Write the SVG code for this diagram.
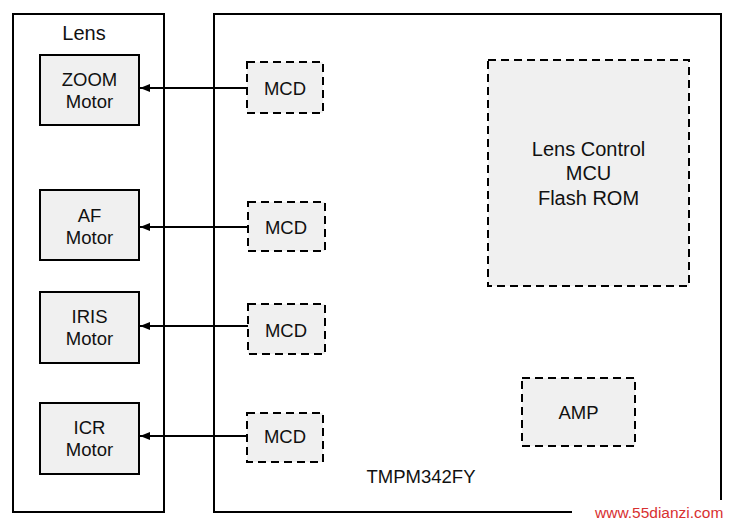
<svg xmlns="http://www.w3.org/2000/svg" width="729" height="525" viewBox="0 0 729 525">
<defs>
<style>
.frame{fill:none;stroke:#000;stroke-width:2}
.solid{fill:#f0f0f0;stroke:#000;stroke-width:2}
.dash{fill:#f0f0f0;stroke:#000;stroke-width:2;stroke-dasharray:8 5}
.t{font-family:"Liberation Sans",Arial,sans-serif;font-size:18.5px;fill:#111;text-anchor:middle}
.big{font-size:20px}
.conn{stroke:#000;stroke-width:2;fill:none;marker-end:url(#ah)}
</style>
<marker id="ah" viewBox="0 0 10 8" refX="10" refY="4" markerWidth="10" markerHeight="8" markerUnits="userSpaceOnUse" orient="auto">
<path d="M0,0 L10,4 L0,8 Z" fill="#000"/>
</marker>
</defs>
<rect width="729" height="525" fill="#fff"/>
<g id="lens">
<rect class="frame" x="13" y="14" width="151" height="498"/>
<text class="t big" x="84" y="40">Lens</text>
</g>
<g id="tmpm">
<rect class="frame" x="214" y="14" width="507" height="498"/>
<text class="t" x="421" y="483">TMPM342FY</text>
</g>
<g id="zoom-motor">
<rect class="solid" x="40" y="55" width="99" height="70"/>
<text class="t" x="89.5" y="86">ZOOM</text>
<text class="t" x="89.5" y="108">Motor</text>
</g>
<g id="af-motor">
<rect class="solid" x="40" y="190" width="99" height="70"/>
<text class="t" x="89.5" y="222">AF</text>
<text class="t" x="89.5" y="244">Motor</text>
</g>
<g id="iris-motor">
<rect class="solid" x="40" y="292" width="99" height="71"/>
<text class="t" x="89.5" y="323">IRIS</text>
<text class="t" x="89.5" y="345">Motor</text>
</g>
<g id="icr-motor">
<rect class="solid" x="40" y="403" width="99" height="71"/>
<text class="t" x="89.5" y="434">ICR</text>
<text class="t" x="89.5" y="456">Motor</text>
</g>
<g id="mcd1">
<rect class="dash" x="247" y="62" width="76" height="51"/>
<text class="t" x="285" y="95">MCD</text>
</g>
<g id="mcd2">
<rect class="dash" x="248" y="202" width="77" height="49"/>
<text class="t" x="286" y="234">MCD</text>
</g>
<g id="mcd3">
<rect class="dash" x="248" y="304" width="77" height="50"/>
<text class="t" x="286" y="337">MCD</text>
</g>
<g id="mcd4">
<rect class="dash" x="247" y="413" width="76" height="49"/>
<text class="t" x="285" y="443">MCD</text>
</g>
<g id="lens-control">
<rect class="dash" x="488" y="60" width="201" height="226"/>
<text class="t big" x="588.5" y="156">Lens Control</text>
<text class="t big" x="588.5" y="180">MCU</text>
<text class="t big" x="588.5" y="205">Flash ROM</text>
</g>
<g id="amp">
<rect class="dash" x="522" y="378" width="113" height="68"/>
<text class="t" x="578.5" y="419">AMP</text>
</g>
<g id="connectors">
<line class="conn" x1="247" y1="88" x2="140" y2="88"/>
<line class="conn" x1="248" y1="227" x2="140" y2="227"/>
<line class="conn" x1="248" y1="326" x2="140" y2="326"/>
<line class="conn" x1="247" y1="436" x2="140" y2="436"/>
</g>
<g id="watermark">
<rect x="572" y="500" width="157" height="25" fill="#fff"/>
<text x="595" y="518" font-family="Liberation Sans,Arial,sans-serif" font-size="15.5" fill="#d83030">www.55dianzi.com</text>
</g>
</svg>
